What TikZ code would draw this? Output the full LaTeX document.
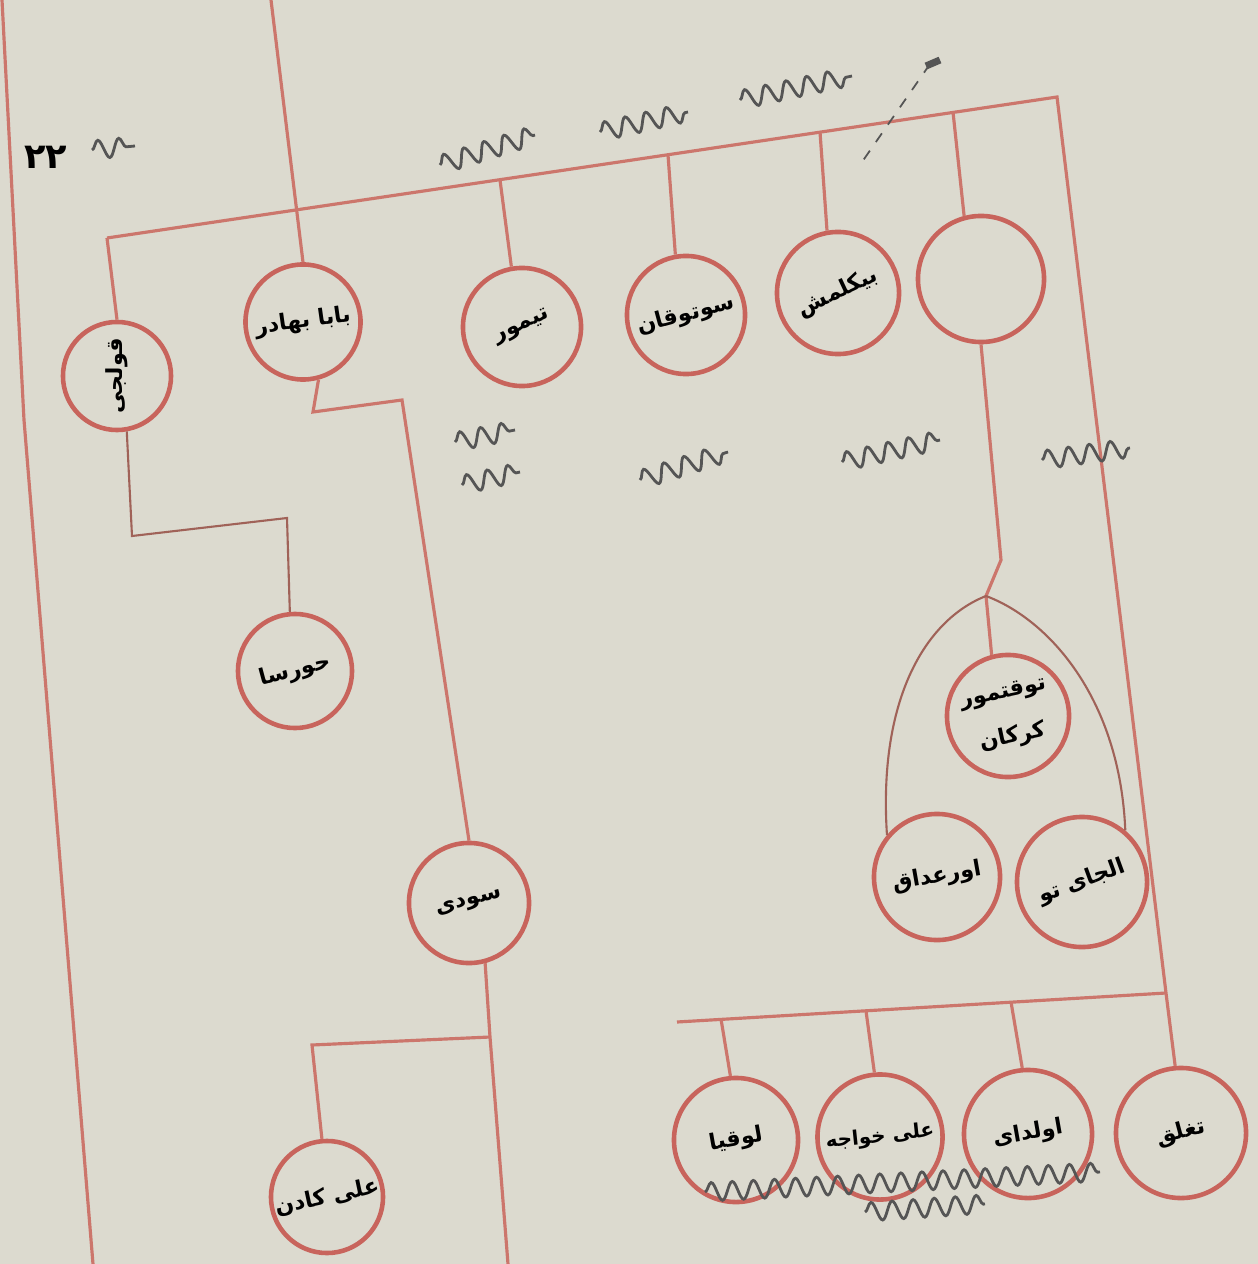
\documentclass[tikz,border=0pt]{standalone}
\usepackage{fontspec}
\newfontfamily\arabicfont[Script=Arabic]{DejaVu Sans}
\TeXXeTstate=1
\usetikzlibrary{calc, decorations.pathmorphing}
\definecolor{paper}{RGB}{220,218,207}
\definecolor{redink}{RGB}{204,118,108}
\definecolor{ringink}{RGB}{200,100,92}
\definecolor{brownink}{RGB}{160,98,88}
\definecolor{pencil}{RGB}{85,85,85}

\tikzset{
  person/.style={circle, draw=ringink, line width=1.3pt, minimum size=#1, inner sep=0pt},
  person/.default=1.2cm,
  tag/.style={font=\arabicfont\bfseries\fontsize{6.3}{11}\selectfont, text=black, inner sep=0pt},
  kin/.style={redink, line width=0.9pt},
  thinkin/.style={brownink, line width=0.6pt},
  scrawl/.style={pencil, line width=0.8pt, decorate,
    decoration={snake, amplitude=2.6pt, segment length=6pt}}
}

\begin{document}
\begin{tikzpicture}[x=0.01cm, y=-0.01cm]
  % Paper
  \fill[paper] (0,0) rectangle (1258,1264);
  \useasboundingbox (0,0) rectangle (1258,1264);

  % Page number
  \node[font=\arabicfont\bfseries\fontsize{10}{12}\selectfont] (pageno) at (46,157) {\beginR ۲۲\endR};

  % Persons, top row
  \node[person=1.08cm, label={[tag, rotate=90]center:\beginR قولجی\endR}] (qulchi) at (117,376) {};
  \node[person=1.15cm, label={[tag, rotate=8]center:\beginR بابا بهادر\endR}] (baba) at (303,322) {};
  \node[person=1.18cm, label={[tag, rotate=25]center:\beginR تیمور\endR}] (timur) at (522,327) {};
  \node[person=1.18cm, label={[tag, rotate=15]center:\beginR سوتوقان\endR}] (sutuqan) at (686,315) {};
  \node[person=1.22cm, label={[tag, rotate=25]center:\beginR بیکلمش\endR}] (bikilmish) at (838,293) {};
  \node[person=1.26cm] (blank) at (981,279) {};

  % Persons, middle
  \node[person=1.14cm, label={[tag, rotate=15]center:\beginR حورسا\endR}] (horsa) at (295,671) {};
  \node[person=1.22cm, label={[tag, rotate=12, align=center, font=\arabicfont\bfseries\fontsize{6.3}{13}\selectfont]center:{\beginR توقتمور\endR\\\beginR کرکان\endR}}] (tuqtimur) at (1008,716) {};
  \node[person=1.26cm, label={[tag, rotate=10]center:\beginR اورعداق\endR}] (urdaq) at (937,877) {};
  \node[person=1.3cm, label={[tag, rotate=20]center:\beginR الجای تو\endR}] (uljaytu) at (1082,882) {};
  \node[person=1.2cm, label={[tag, rotate=15]center:\beginR سودی\endR}] (sudi) at (469,903) {};

  % Persons, bottom row
  \node[person=1.12cm, label={[tag, rotate=12]center:\beginR علی کادن\endR}] (alikadan) at (327,1197) {};
  \node[person=1.24cm, label={[tag, rotate=10]center:\beginR لوقیا\endR}] (luqiya) at (736,1140) {};
  \node[person=1.25cm, label={[tag, rotate=6, scale=0.9]center:\beginR علی خواجه\endR}] (alikhwaja) at (880,1137) {};
  \node[person=1.28cm, label={[tag, rotate=10]center:\beginR اولدای\endR}] (uldai) at (1028,1134) {};
  \node[person=1.3cm, label={[tag, rotate=15]center:\beginR تغلق\endR}] (tughluq) at (1181,1133) {};

  % Junctions
  \coordinate (margTop) at (2,0);
  \coordinate (margMid) at (24,420);
  \coordinate (margBot) at (93,1264);
  \coordinate (topL) at (107,238);
  \coordinate (topR) at (1057,97);
  \coordinate (babaTop) at (271,0);
  \coordinate (jTimur) at (500,180);
  \coordinate (jSutuqan) at (668,155);
  \coordinate (jBikil) at (820,132);
  \coordinate (jBlank) at (953,112);
  \coordinate (qBend) at (132,536);
  \coordinate (hBend) at (287,518);
  \coordinate (bBend) at (313,412);
  \coordinate (sBend) at (402,400);
  \coordinate (sBr) at (490,1037);
  \coordinate (sBot) at (508,1264);
  \coordinate (kBend) at (312,1045);
  \coordinate (fBend) at (1001,560);
  \coordinate (fork) at (986,596);
  \coordinate (rTurn) at (1166,993);
  \coordinate (botL) at (677,1022);
  \coordinate (jLuq) at (721,1019);
  \coordinate (jKhw) at (866,1011);
  \coordinate (jUld) at (1011,1002);

  % Margin line
  \draw[kin] (margTop) -- (margMid) -- (margBot);

  % Top bar and drops
  \draw[kin] (topL) -- (topR) -- (rTurn) -- (tughluq.95);
  \draw[kin] (topL) -- (qulchi.north);
  \draw[kin] (babaTop) -- (baba.north);
  \draw[kin] (jTimur) -- (timur.100);
  \draw[kin] (jSutuqan) -- (sutuqan.100);
  \draw[kin] (jBikil) -- (bikilmish.100);
  \draw[kin] (jBlank) -- (blank.105);

  % Qulchi to Horsa
  \draw[thinkin] (qulchi.-80) -- (qBend) -- (hBend) -- (horsa.95);

  % Baba Bahadur to Sudi, Sudi to Ali Kadan
  \draw[kin] (baba.-75) -- (bBend) -- (sBend) -- (sudi.north);
  \draw[kin] (sudi.-75) -- (sBr) -- (sBot);
  \draw[kin] (sBr) -- (kBend) -- (alikadan.95);

  % Blank circle to its three
  \draw[kin] (blank.south) -- (fBend) -- (fork) -- (tuqtimur.105);
  \draw[thinkin] (fork) .. controls (925,620) and (878,700) .. (urdaq.140);
  \draw[thinkin] (fork) .. controls (1050,620) and (1120,700) .. (uljaytu.50);

  % Bottom bar
  \draw[kin] (botL) -- (rTurn);
  \draw[kin] (jLuq) -- (luqiya.95);
  \draw[kin] (jKhw) -- (alikhwaja.95);
  \draw[kin] (jUld) -- (uldai.95);

  % Pencil notes
  \draw[scrawl] (92,150) -- (135,146);
  \draw[scrawl] (440,165) -- (535,135);
  \draw[scrawl] (600,132) -- (688,112);
  \draw[scrawl] (740,100) -- (852,76);
  \draw[pencil, dashed, line width=0.5pt] (930,64) -- (862,162);
  \draw[pencil, line width=2pt] (926,66) -- (940,60);
  \draw[scrawl] (455,442) -- (515,430);
  \draw[scrawl] (462,485) -- (520,472);
  \draw[scrawl] (640,480) -- (728,452);
  \draw[scrawl] (842,462) -- (940,440);
  \draw[scrawl] (1042,460) -- (1130,448);
  \draw[scrawl] (705,1192) -- (1100,1172);
  \draw[scrawl] (865,1212) -- (985,1204);
\end{tikzpicture}
\end{document}
